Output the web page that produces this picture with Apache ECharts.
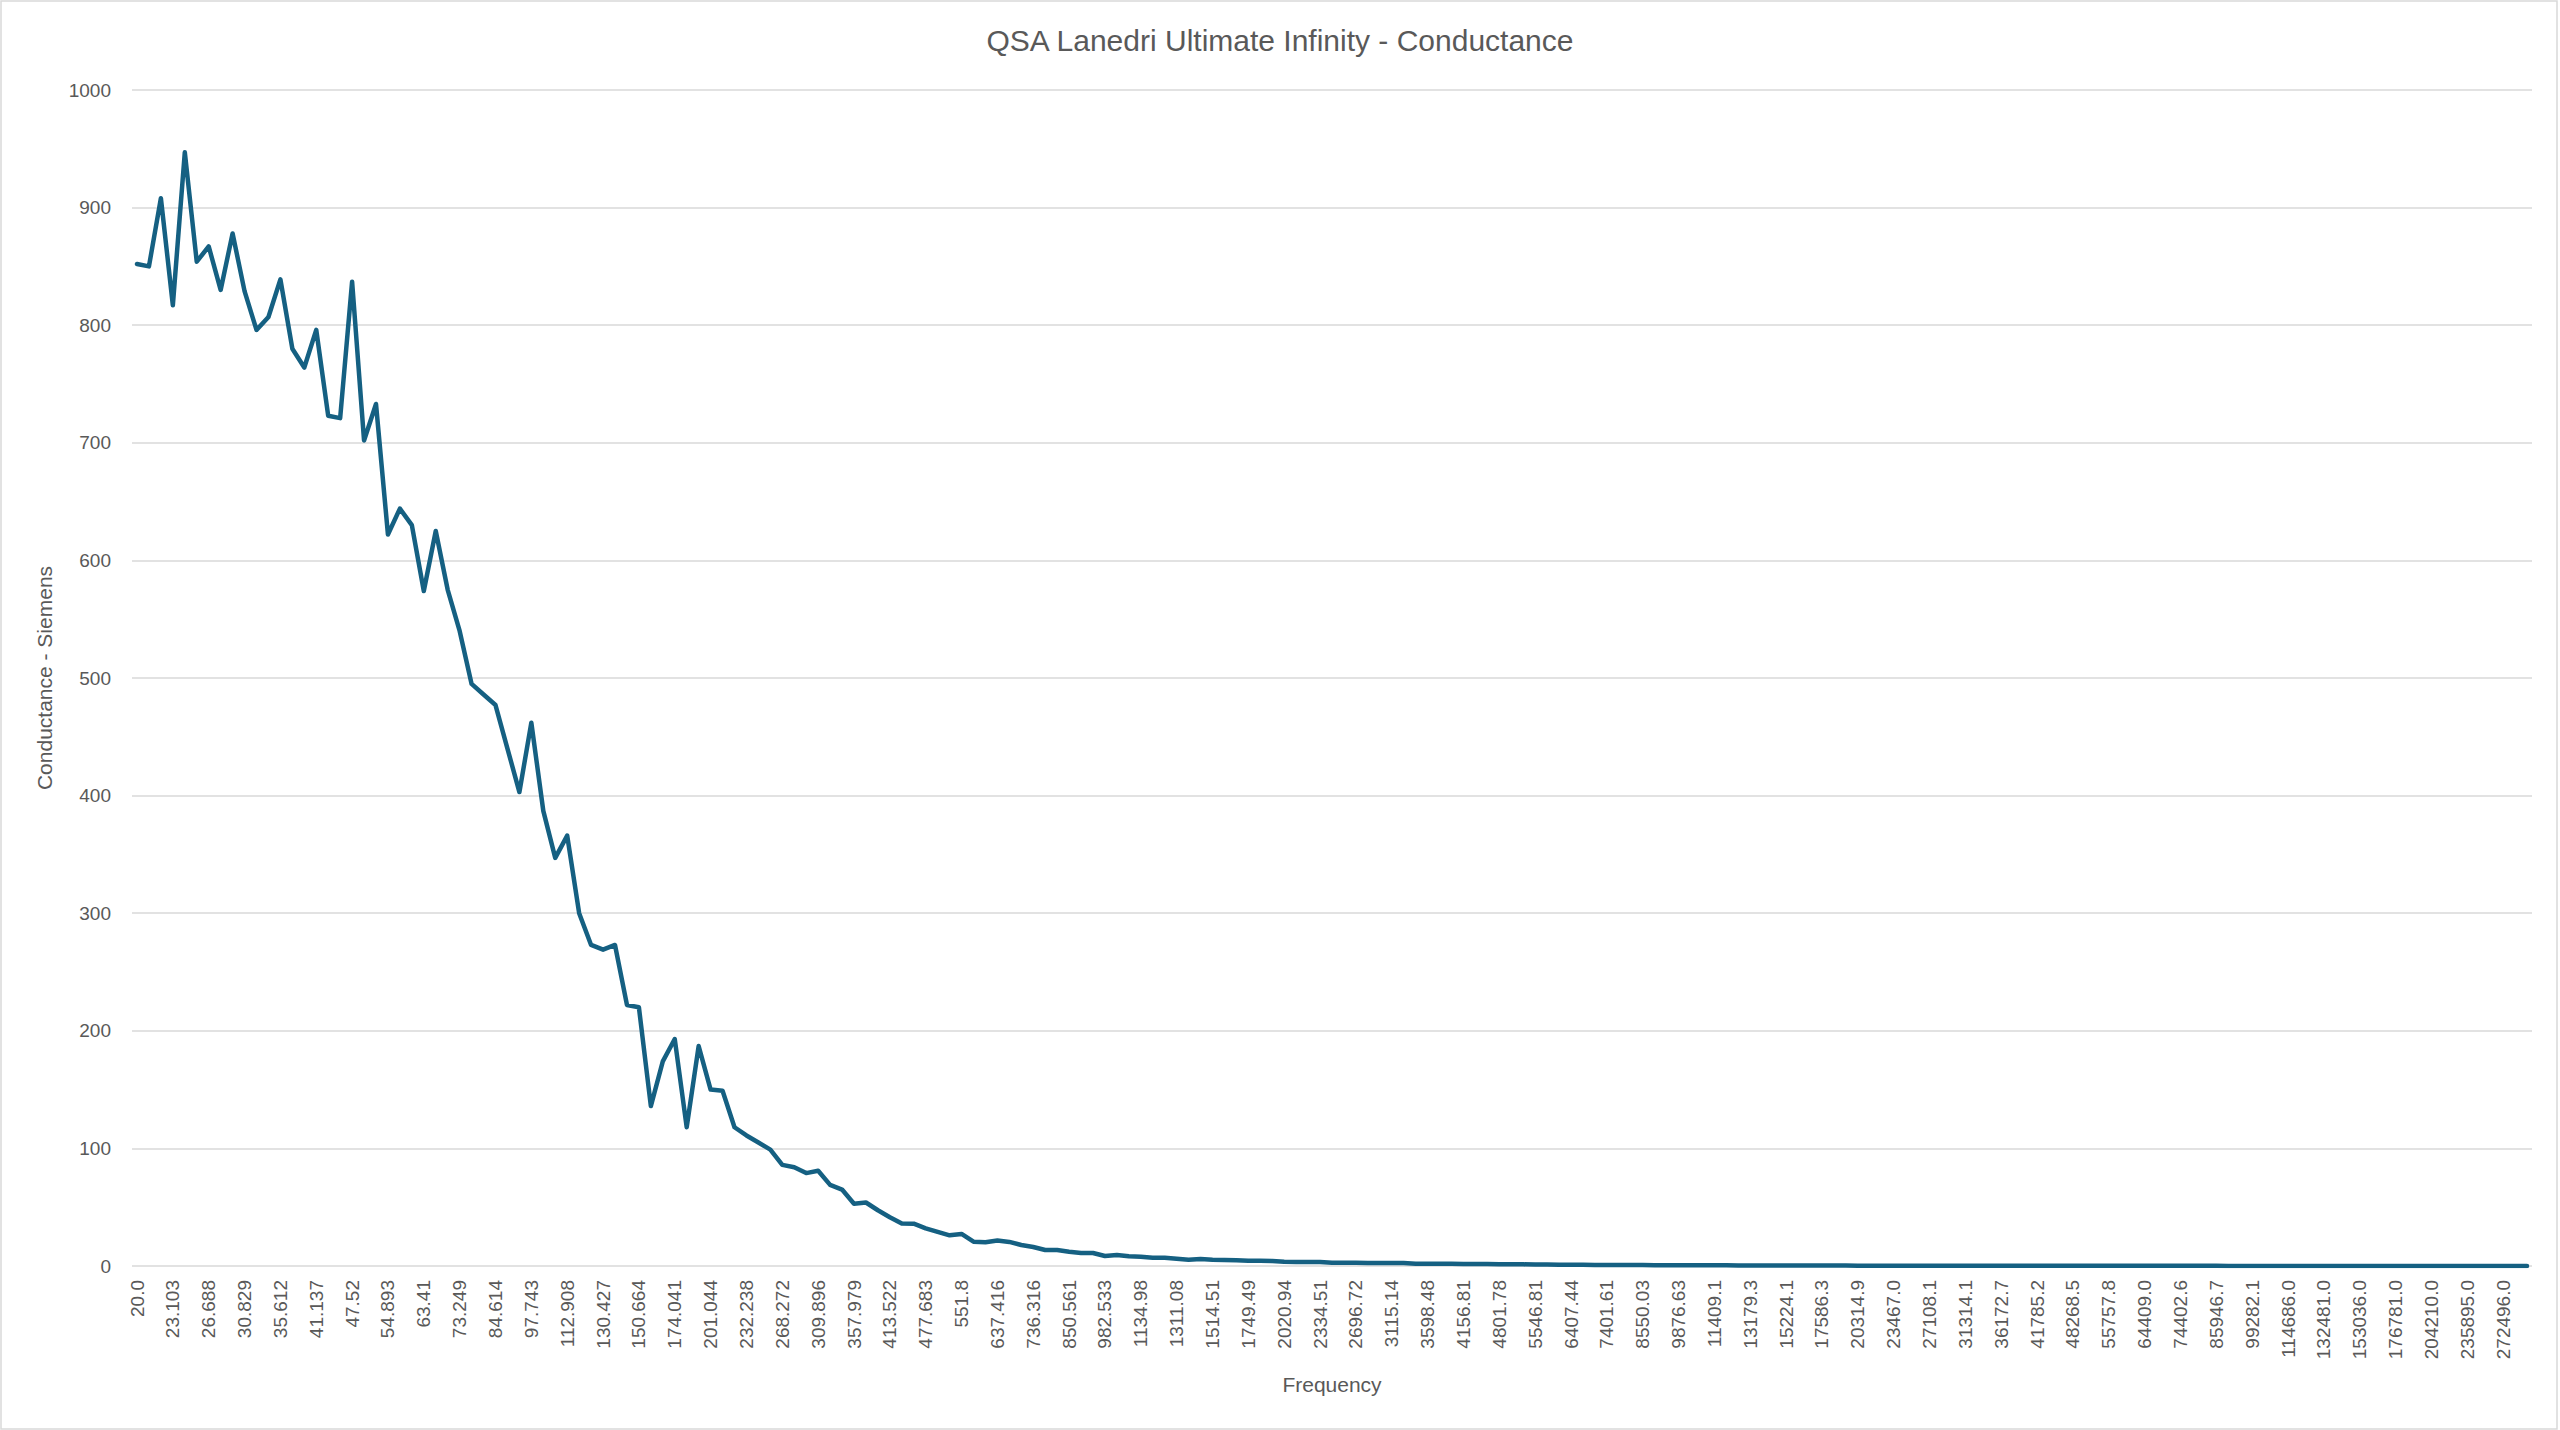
<!DOCTYPE html>
<html>
<head>
<meta charset="utf-8">
<title>QSA Lanedri Ultimate Infinity - Conductance</title>
<script src="https://cdn.jsdelivr.net/npm/echarts@6/dist/echarts.min.js"></script>
<style>
  html, body { margin: 0; padding: 0; background: #ffffff; }
  #chart { width: 2560px; height: 1430px; }
</style>
</head>
<body>
<div id="chart"></div>
<script>
// Frequency categories (Hz) – every third one is shown as an axis label
const frequencies = [
  "20.0","20.985","22.019","23.103","24.241","25.435","26.688","28.002","29.382",
  "30.829","32.347","33.941","35.612","37.366","39.206","41.137","43.163","45.289",
  "47.52","49.861","52.316","54.893","57.597","60.434","63.41","66.533","69.81",
  "73.249","76.857","80.642","84.614","88.782","93.154","97.743","102.557","107.609",
  "112.908","118.469","124.304","130.427","136.851","143.592","150.664","158.085","165.871",
  "174.041","182.613","191.608","201.044","210.946","221.336","232.238","243.677","255.679",
  "268.272","281.486","295.35","309.896","325.16","341.175","357.979","375.611","394.111",
  "413.522","433.89","455.26","477.683","501.211","525.898","551.8","578.978","607.495",
  "637.416","668.811","701.753","736.316","772.583","810.635","850.561","892.455","936.412",
  "982.533","1030.93","1081.7","1134.98","1190.88","1249.54","1311.08","1375.66","1443.41",
  "1514.51","1589.11","1667.38","1749.49","1835.66","1926.07","2020.94","2120.48","2224.92",
  "2334.51","2449.49","2570.14","2696.72","2829.54","2968.91","3115.14","3268.57","3429.56",
  "3598.48","3775.72","3961.69","4156.81","4361.55","4576.38","4801.78","5038.29","5286.45",
  "5546.81","5820.01","6106.67","6407.44","6723.03","7054.17","7401.61","7766.17","8148.68",
  "8550.03","8971.15","9413.02","9876.63","10363.1","10873.5","11409.1","11971.0","12560.7",
  "13179.3","13828.4","14509.5","15224.1","15973.9","16760.7","17586.3","18452.5","19361.4",
  "20314.9","21315.5","22365.4","23467.0","24622.8","25835.6","27108.1","28443.3","29844.2",
  "31314.1","32856.4","34474.8","36172.7","37954.4","39823.8","41785.2","43843.3","46002.8",
  "48268.5","50645.9","53140.4","55757.8","58504.1","61385.6","64409.0","67581.4","70910.1",
  "74402.6","78067.2","81912.3","85946.7","90179.9","94621.7","99282.1","104172.0","109303.0",
  "114686.0","120335.0","126262.0","132481.0","139006.0","145853.0","153036.0","160574.0","168482.0",
  "176781.0","185488.0","194624.0","204210.0","214268.0","224822.0","235895.0","247514.0","259705.0",
  "272496.0","285917.0","300000.0"
];

// Conductance (Siemens), one value per frequency
const conductance = [
  852, 850, 908, 817, 947, 854, 867, 830, 878, 829,
  796, 807, 839, 780, 764, 796, 723, 721, 837, 702,
  733, 622, 644, 630, 574, 625, 575, 540, 495, 486,
  477, 440, 403, 462, 387, 347, 366, 300, 273, 269,
  273, 222, 220, 136, 174, 193, 118, 187, 150, 149,
  118, 111, 105, 99, 86, 84, 79, 81, 69, 65,
  53, 54, 47.4, 41.5, 36.1, 36, 32, 29, 26.1, 27.3,
  20.7, 20.2, 21.6, 20.5, 17.9, 16.2, 13.6, 13.6, 12.2, 11.1,
  11.1, 8.5, 9.4, 8.2, 7.9, 7.1, 7.1, 6.2, 5.4, 6.0,
  5.4, 5.1, 4.8, 4.5, 4.5, 4.3, 3.7, 3.4, 3.4, 3.4,
  2.8, 2.8, 2.8, 2.6, 2.6, 2.6, 2.5, 2.0, 2.0, 1.9,
  1.9, 1.8, 1.7, 1.6, 1.5, 1.5, 1.4, 1.3, 1.2, 1.1,
  1.0, 1.0, 0.9, 0.9, 0.8, 0.8, 0.8, 0.7, 0.7, 0.7,
  0.6, 0.6, 0.6, 0.6, 0.5, 0.5, 0.5, 0.5, 0.5, 0.4,
  0.4, 0.4, 0.4, 0.4, 0.3, 0.3, 0.3, 0.3, 0.3, 0.2,
  0.2, 0.2, 0.2, 0.2, 0.2, 0.2, 0.2, 0.2, 0.2, 0.2,
  0.2, 0.2, 0.2, 0.2, 0.2, 0.2, 0.2, 0.2, 0.2, 0.2,
  0.2, 0.2, 0.2, 0.2, 0.2, 0.1, 0.1, 0.1, 0.1, 0.1,
  0.1, 0.1, 0.1, 0.1, 0.1, 0.1, 0.1, 0.1, 0.1, 0.1,
  0.1, 0.1, 0.1, 0.1, 0.1, 0.1, 0.1, 0.1, 0.1, 0.1,
  0.1
];

const yTicks = { min: 0, max: 1000, interval: 100 };

const chartTitle = "QSA Lanedri Ultimate Infinity - Conductance";
const xTitle = "Frequency";
const yTitle = "Conductance - Siemens";

const textColor = "#595959";
const gridColor = "#d9d9d9";
const lineColor = "#156082";
const sans = "'Liberation Sans', Arial, sans-serif";

const chart = echarts.init(document.getElementById('chart'), null, { renderer: 'svg' });

chart.setOption({
  backgroundColor: '#ffffff',
  animation: false,
  title: {
    text: chartTitle,
    left: 'center',
    top: 20,
    textStyle: {
      fontFamily: "'Liberation Sans Narrow', 'Liberation Sans', sans-serif",
      fontSize: 30,
      fontWeight: 'normal',
      color: textColor
    }
  },
  graphic: [{
    type: 'rect',
    silent: true,
    shape: { x: 1, y: 1, width: 2556, height: 1428 },
    style: { fill: 'none', stroke: gridColor, lineWidth: 1.5 }
  }],
  grid: [
    { left: 132, right: 28, top: 90, bottom: 164 },
    { left: 137, right: 33, top: 90, bottom: 164 }
  ],
  xAxis: [
    { gridIndex: 0, type: 'value', min: 0, max: 1, show: false },
    {
      gridIndex: 1,
      type: 'category',
      data: frequencies,
      boundaryGap: false,
      axisLine: { show: false },
      axisTick: { show: false },
      splitLine: { show: false },
      axisLabel: {
        interval: 2,
        rotate: 90,
        margin: 14,
        fontSize: 19,
        fontFamily: sans,
        color: textColor
      },
      name: xTitle,
      nameLocation: 'middle',
      nameGap: 108,
      nameTextStyle: { fontSize: 21, fontFamily: sans, color: textColor }
    }
  ],
  yAxis: [
    {
      gridIndex: 0,
      type: 'value',
      min: yTicks.min,
      max: yTicks.max,
      interval: yTicks.interval,
      axisLine: { show: false },
      axisTick: { show: false },
      splitLine: { show: true, lineStyle: { color: gridColor, width: 1.5 } },
      axisLabel: {
        margin: 21, fontSize: 19, fontFamily: sans, color: textColor,
        formatter: function (v) { return String(v); }
      },
      name: yTitle,
      nameLocation: 'middle',
      nameGap: 77,
      nameTextStyle: { fontSize: 21, fontFamily: sans, color: textColor }
    },
    {
      gridIndex: 1,
      type: 'value',
      min: yTicks.min,
      max: yTicks.max,
      interval: yTicks.interval,
      show: false
    }
  ],
  series: [{
    type: 'line',
    xAxisIndex: 1,
    yAxisIndex: 1,
    data: conductance,
    showSymbol: false,
    symbol: 'none',
    smooth: false,
    lineStyle: { color: lineColor, width: 4.5, cap: 'round', join: 'round' }
  }]
});
</script>
</body>
</html>
